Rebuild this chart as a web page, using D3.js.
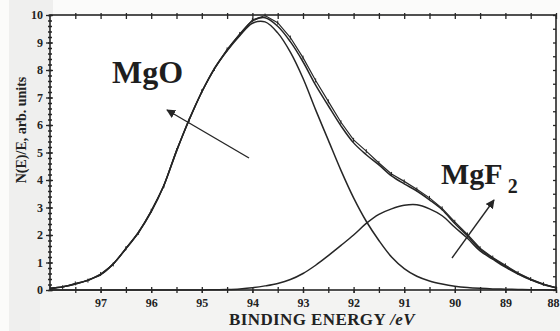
<!DOCTYPE html>
<html>
<head>
<meta charset="utf-8">
<script src="https://cdn.jsdelivr.net/npm/d3@7"></script>
<style>
  html, body { margin: 0; padding: 0; background: #fbfbfa; }
  svg { display: block; }
  .tick text { font-family: "Liberation Serif", "DejaVu Serif", serif; font-weight: bold; fill: #222; }
</style>
</head>
<body>
<div id="chart"></div>
<script>
// Mg 2p spectrum: binding energy grid (eV), step 0.25
const energy = [98.00,97.75,97.50,97.25,97.00,96.75,96.50,96.25,96.00,95.75,95.50,95.25,95.00,94.75,94.50,94.25,94.00,93.75,93.50,93.25,93.00,92.75,92.50,92.25,92.00,91.75,91.50,91.25,91.00,90.75,90.50,90.25,90.00,89.75,89.50,89.25,89.00,88.75,88.50,88.25,88.00];

// measured intensity
const measured = [0.08,0.10,0.24,0.34,0.58,0.93,1.52,2.08,2.88,3.78,5.08,6.17,7.23,8.04,8.75,9.31,9.82,9.98,9.72,9.18,8.45,7.62,6.86,6.10,5.46,5.05,4.62,4.22,3.95,3.66,3.35,2.97,2.48,2.02,1.52,1.18,0.90,0.62,0.40,0.22,0.08];

// fitted envelope
const fitTotal = [0.05,0.12,0.22,0.36,0.56,0.95,1.50,2.10,2.85,3.80,5.05,6.20,7.20,8.06,8.72,9.29,9.78,9.90,9.59,9.03,8.30,7.45,6.70,5.97,5.35,4.92,4.55,4.15,3.86,3.60,3.28,2.92,2.42,1.97,1.48,1.16,0.86,0.60,0.38,0.21,0.08];

// MgO component
const mgoComp = [0.05,0.12,0.22,0.36,0.56,0.95,1.50,2.10,2.85,3.80,5.05,6.20,7.20,8.05,8.70,9.25,9.70,9.75,9.35,8.65,7.70,6.55,5.45,4.35,3.35,2.50,1.80,1.20,0.78,0.50,0.33,0.22,0.14,0.09,0.06,0.04,0.03,0.02,0.01,0.01,0.00];

// MgF2 component
const mgf2Comp = [0,0,0,0,0,0,0,0,0,0,0,0,0,0.01,0.02,0.04,0.08,0.15,0.24,0.38,0.60,0.90,1.25,1.62,2.00,2.42,2.75,2.95,3.08,3.10,2.95,2.70,2.28,1.88,1.42,1.12,0.83,0.58,0.37,0.20,0.08];

const xMajorTicks = [97,96,95,94,93,92,91,90,89,88];
const yMajorTicks = [0,1,2,3,4,5,6,7,8,9,10];

const W = 560, H = 331;
const mLeft = 50, mRight = 556, mTop = 15, mBottom = 290;

const svg = d3.select("#chart").append("svg")
  .attr("width", W).attr("height", H);

// scan-like shading bands
svg.append("rect").attr("x", 9).attr("y", 0).attr("width", 44).attr("height", H).attr("fill", "#efefee");
svg.append("rect").attr("x", 40).attr("y", 292).attr("width", 520).attr("height", 39).attr("fill", "#f3f3f2");

const x = d3.scaleLinear().domain([98, 88]).range([mLeft, mRight]);
const y = d3.scaleLinear().domain([0, 10]).range([mBottom, mTop]);

const ink = "#262626";

// frame
svg.append("rect")
  .attr("x", mLeft).attr("y", mTop)
  .attr("width", mRight - mLeft).attr("height", mBottom - mTop)
  .attr("fill", "#ffffff").attr("stroke", ink).attr("stroke-width", 1.6);

function tickLayer(axis, tx, ty) {
  const g = svg.append("g").attr("transform", `translate(${tx},${ty})`).call(axis);
  g.select(".domain").remove();
  g.selectAll(".tick line").attr("stroke", ink).attr("stroke-width", 1.3);
  return g;
}

// bottom axis: labels and crossing ticks
const xMinor = d3.range(97.5, 87.9, -0.5);
tickLayer(d3.axisBottom(x).tickValues(xMinor).tickSize(3).tickFormat(""), 0, mBottom);
tickLayer(d3.axisBottom(x).tickValues(xMinor).tickSize(-3).tickFormat(""), 0, mBottom);
const xl = tickLayer(d3.axisBottom(x).tickValues(xMajorTicks).tickSize(3).tickPadding(5).tickFormat(d3.format("d")), 0, mBottom);
xl.selectAll(".tick text").attr("font-size", 12);
// last label sits at the right frame edge; keep it inside the page
xl.selectAll(".tick text").filter(d => d === 88).attr("text-anchor", "end").attr("x", 3);

// top axis ticks
tickLayer(d3.axisBottom(x).tickValues(xMinor).tickSize(4).tickFormat(""), 0, mTop);
tickLayer(d3.axisTop(x).tickValues(xMinor).tickSize(2).tickFormat(""), 0, mTop);

// left axis: labels, major and minor ticks
const yMinor = d3.range(0, 10.01, 0.2);
tickLayer(d3.axisLeft(y).tickValues(yMinor).tickSize(2).tickFormat(""), mLeft, 0);
tickLayer(d3.axisLeft(y).tickValues(yMinor).tickSize(-2).tickFormat(""), mLeft, 0);
const yl = tickLayer(d3.axisLeft(y).tickValues(yMajorTicks).tickSize(4).tickPadding(3).tickFormat(d3.format("d")), mLeft, 0);
yl.selectAll(".tick text").attr("font-size", 12);
tickLayer(d3.axisRight(y).tickValues(yMajorTicks).tickSize(3).tickFormat(""), mLeft, 0);

// right axis ticks
tickLayer(d3.axisLeft(y).tickValues(d3.range(0, 10.01, 0.5)).tickSize(3).tickFormat(""), mRight, 0);

// curves
const pts = arr => energy.map((e, i) => [e, arr[i]]);
const line = d3.line().x(d => x(d[0])).y(d => y(d[1])).curve(d3.curveCatmullRom.alpha(0.5));
const rawLine = d3.line().x(d => x(d[0])).y(d => y(d[1])).curve(d3.curveLinear);

const plot = svg.append("g");
[mgoComp, mgf2Comp, fitTotal].forEach(arr => {
  plot.append("path").attr("d", line(pts(arr)))
    .attr("fill", "none").attr("stroke", ink).attr("stroke-width", 1.5);
});
plot.append("path").attr("d", rawLine(pts(measured)))
  .attr("fill", "none").attr("stroke", ink).attr("stroke-width", 1.2);

// small data marks along the measured trace
plot.selectAll("line.mark").data(pts(measured)).enter().append("line")
  .attr("class", "mark")
  .attr("x1", d => x(d[0])).attr("x2", d => x(d[0]))
  .attr("y1", d => y(d[1]) - 2).attr("y2", d => y(d[1]) + 2)
  .attr("stroke", ink).attr("stroke-width", 1);

// arrows
const defs = svg.append("defs");
defs.append("marker").attr("id", "head")
  .attr("viewBox", "0 0 10 10").attr("refX", 9).attr("refY", 5)
  .attr("markerWidth", 9).attr("markerHeight", 9).attr("markerUnits", "userSpaceOnUse")
  .attr("orient", "auto")
  .append("path").attr("d", "M0,0 L10,5 L0,10 Z").attr("fill", ink);

svg.append("line").attr("x1", 249).attr("y1", 158).attr("x2", 167).attr("y2", 110)
  .attr("stroke", ink).attr("stroke-width", 1.4).attr("marker-end", "url(#head)");
svg.append("line").attr("x1", 452).attr("y1", 258).attr("x2", 494).attr("y2", 200)
  .attr("stroke", ink).attr("stroke-width", 1.4).attr("marker-end", "url(#head)");

// component labels
const serif = "'Liberation Serif', 'DejaVu Serif', serif";
svg.append("text").attr("x", 112).attr("y", 83)
  .attr("font-family", serif).attr("font-weight", "bold").attr("font-size", 32).attr("fill", "#1e1e1e")
  .text("MgO");
const f2 = svg.append("text").attr("x", 441).attr("y", 184)
  .attr("font-family", serif).attr("font-weight", "bold").attr("font-size", 30).attr("fill", "#1e1e1e");
f2.append("tspan").text("MgF");
f2.append("tspan").attr("font-size", 20).attr("dx", 5).attr("dy", 9).text("2");

// axis titles
const xt = svg.append("text").attr("x", 322).attr("y", 325).attr("text-anchor", "middle")
  .attr("font-family", serif).attr("font-weight", "bold").attr("font-size", 17)
  .attr("letter-spacing", 0.4).attr("fill", "#222");
xt.append("tspan").text("BINDING  ENERGY ");
xt.append("tspan").attr("font-style", "italic").text("/eV");
svg.append("text").attr("transform", "translate(26,130) rotate(-90)").attr("text-anchor", "middle")
  .attr("font-family", serif).attr("font-weight", "bold").attr("font-size", 14).attr("fill", "#222")
  .text("N(E)/E, arb. units");
</script>
</body>
</html>
